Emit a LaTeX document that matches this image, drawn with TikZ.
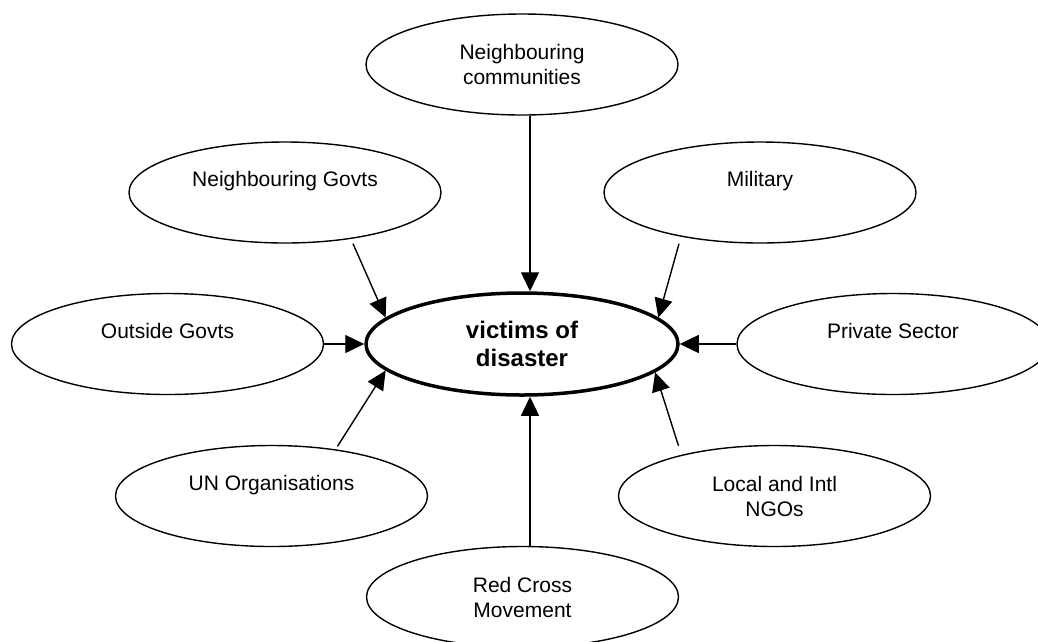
\documentclass[tikz,border=0pt]{standalone}
\usepackage{fontspec}
\setmainfont{Liberation Sans}
\usetikzlibrary{arrows.meta,shapes.geometric}
\begin{document}
\begin{tikzpicture}[x=1pt,y=-1pt,
  bubble/.style={ellipse, draw, line width=1.4pt, minimum width=312pt,
    minimum height=101pt, inner sep=0pt, align=center,
    font=\fontsize{21}{25}\selectfont},
  oneline/.style={text height=15pt, text depth=27pt},
  hub/.style={bubble, line width=3.5pt, minimum width=312pt,
    minimum height=102pt, font=\fontsize{24}{28}\selectfont\bfseries},
  feed/.style={line width=1.4pt, -{Triangle[length=19pt,width=18pt]}}]

\useasboundingbox (0,0) rectangle (1038,641);
\clip (0,0) rectangle (1038,641);

% central actor
\node[hub] (ctr) at (522,344) {victims of\\disaster};

% surrounding actors
\node[bubble] (top) at (522,64.5) {Neighbouring\\communities};
\node[bubble,oneline] (ngov) at (285,192.5) {Neighbouring Govts};
\node[bubble,oneline] (mil) at (760,192.5) {Military};
\node[bubble,oneline] (out) at (167.5,344) {Outside Govts};
\node[bubble,oneline] (priv) at (893,344) {Private Sector};
\node[bubble,oneline] (un) at (271.5,496) {UN Organisations};
\node[bubble] (ngo) at (774.5,496) {Local and Intl\\NGOs};
\node[bubble] (red) at (522.5,597) {Red Cross\\Movement};

% connectors pointing to the centre
\draw[feed] ([xshift=8pt]top.south) -- ([xshift=8pt]ctr.north);
\draw[feed] ([xshift=68pt]ngov.south) -- (ctr.169.5);
\draw[feed] ([xshift=-81pt]mil.south) -- (ctr.11.8);
\draw[feed] (out.east) -- (ctr.west);
\draw[feed] (priv.west) -- (ctr.east);
\draw[feed] ([xshift=66pt,yshift=-1.5pt]un.north) -- (ctr.191.3);
\draw[feed] ([xshift=-96pt,yshift=-1pt]ngo.north) -- (ctr.348);
\draw[feed] ([xshift=7.5pt]red.north) -- ([xshift=8pt]ctr.south);
\end{tikzpicture}
\end{document}
